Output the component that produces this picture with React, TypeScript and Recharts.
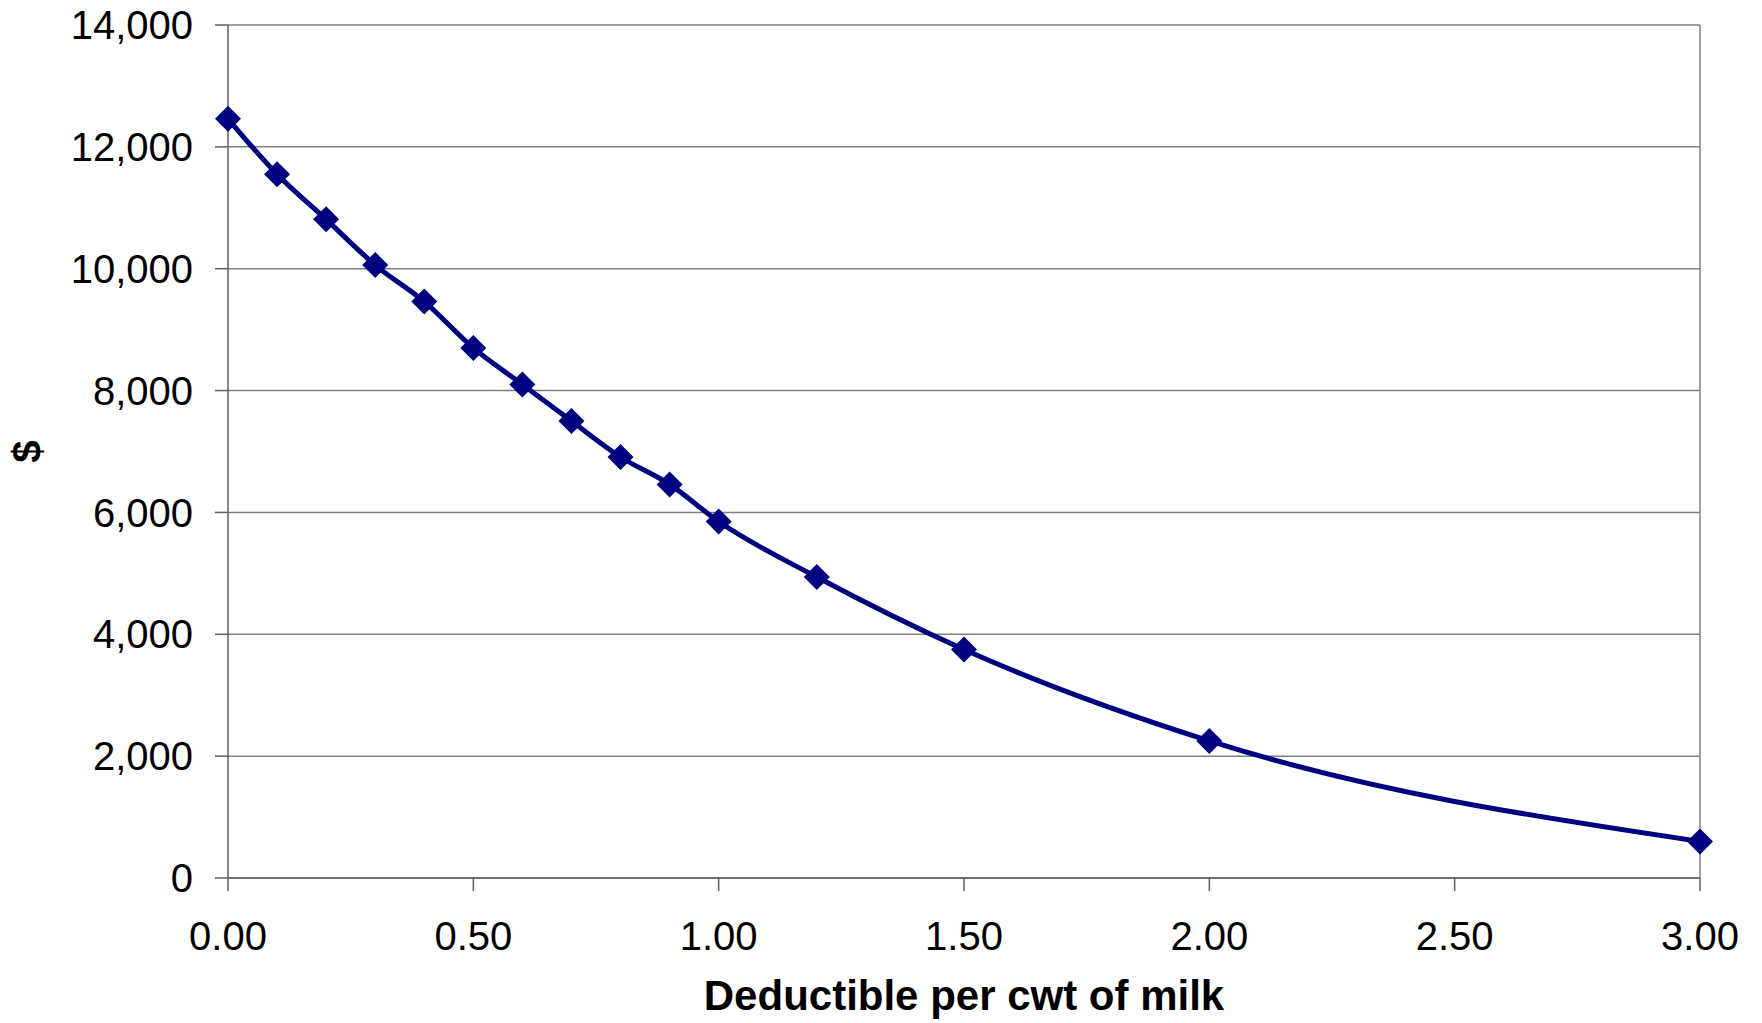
import React from "react";
import {
  LineChart,
  Line,
  XAxis,
  YAxis,
  CartesianGrid,
  ReferenceLine,
} from "recharts";

const deductibles = [0, 0.1, 0.2, 0.3, 0.4, 0.5, 0.6, 0.7, 0.8, 0.9, 1.0, 1.2, 1.5, 2.0, 3.0];
const dollars = [12460, 11550, 10810, 10060, 9460, 8700, 8100, 7500, 6910, 6460, 5850, 4940, 3750, 2250, 600];
const xTicks = [0, 0.5, 1, 1.5, 2, 2.5, 3];
const yTicks = [0, 2000, 4000, 6000, 8000, 10000, 12000, 14000];
const xTitle = "Deductible per cwt of milk";
const yTitle = "$";

const data = deductibles.map((d, i) => ({ x: d, y: dollars[i] }));

const FONT = '"Liberation Sans", Arial, sans-serif';
const NAVY = "#000080";

const Diamond = (props: any) => {
  const { cx, cy } = props;
  if (cx == null || cy == null) return null;
  const r = 13;
  return (
    <polygon
      points={`${cx},${cy - r} ${cx + r},${cy} ${cx},${cy + r} ${cx - r},${cy}`}
      fill={NAVY}
      stroke="none"
    />
  );
};

export default function App() {
  return (
    <div style={{ width: 1762, height: 1023, background: "#fff", margin: "-8px 0 0 -8px" }}>
      <LineChart
        width={1762}
        height={1023}
        data={data}
        margin={{ top: 25, right: 62, left: 0, bottom: 0 }}
        style={{ fontFamily: FONT }}
      >
        <CartesianGrid horizontal={true} vertical={false} stroke="#808080" strokeWidth={1.5} />
        <ReferenceLine x={3} stroke="#808080" strokeWidth={1.5} ifOverflow="visible" />
        <XAxis
          dataKey="x"
          type="number"
          domain={[0, 3]}
          ticks={xTicks}
          tickFormatter={(v: number) => v.toFixed(2)}
          height={145}
          tickSize={13}
          tickMargin={31}
          axisLine={{ stroke: "#606060", strokeWidth: 1.5 }}
          tickLine={{ stroke: "#606060", strokeWidth: 1.5 }}
          tick={{ fill: "#000", fontSize: 40, fontFamily: FONT }}
          interval={0}
          label={{
            content: (p: any) => {
              const vb = p.viewBox || {};
              return (
                <text
                  x={vb.x + vb.width / 2}
                  y={vb.y + 132}
                  textAnchor="middle"
                  fontFamily={FONT}
                  fontWeight="bold"
                  fontSize={42}
                  fill="#000"
                >
                  {xTitle}
                </text>
              );
            },
          }}
        />
        <YAxis
          dataKey="y"
          type="number"
          domain={[0, 14000]}
          ticks={yTicks}
          tickFormatter={(v: number) => v.toLocaleString("en-US")}
          width={228}
          tickSize={13}
          tickMargin={22}
          axisLine={{ stroke: "#606060", strokeWidth: 1.5 }}
          tickLine={{ stroke: "#606060", strokeWidth: 1.5 }}
          tick={{ fill: "#000", fontSize: 40, fontFamily: FONT }}
          interval={0}
          label={{
            content: (p: any) => {
              const vb = p.viewBox || {};
              const cx = 41;
              const cy = vb.y + vb.height / 2;
              return (
                <text
                  x={cx}
                  y={cy}
                  transform={`rotate(-90 ${cx} ${cy})`}
                  textAnchor="middle"
                  fontFamily={FONT}
                  fontWeight="bold"
                  fontSize={40}
                  fill="#000"
                >
                  {yTitle}
                </text>
              );
            },
          }}
        />
        <Line
          type="monotone"
          dataKey="y"
          stroke={NAVY}
          strokeWidth={5}
          dot={<Diamond />}
          activeDot={false}
          isAnimationActive={false}
        />
      </LineChart>
    </div>
  );
}
